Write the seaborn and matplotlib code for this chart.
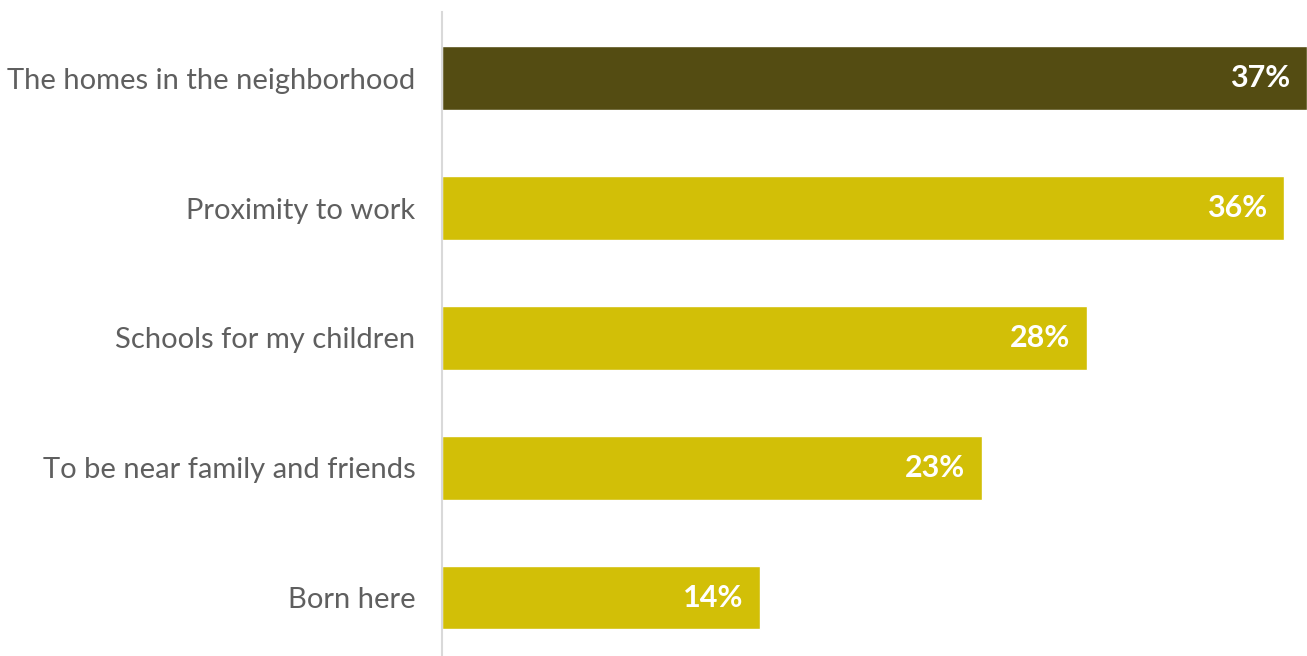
import matplotlib
matplotlib.use("Agg")
import matplotlib.pyplot as plt
import seaborn as sns
import pandas as pd

categories = ["The homes in the neighborhood", "Proximity to work", "Schools for my children",
              "To be near family and friends", "Born here"]
values = [37.0, 36.0, 27.6, 23.1, 13.6]
value_labels = ["37%", "36%", "28%", "23%", "14%"]
colors = ["#544c12", "#d2bf07", "#d2bf07", "#d2bf07", "#d2bf07"]

sns.set_theme(style="white")
plt.rcParams['font.family'] = ['Lato', 'DejaVu Sans']

df = pd.DataFrame({"cat": categories, "val": values})
fig = plt.figure(figsize=(13.07, 6.56), dpi=100)
ax = fig.add_axes([442/1307, 0, 1 - 442/1307, 1 - 12/656])
sns.barplot(data=df, y="cat", x="val", hue="cat", palette=colors, legend=False,
            width=0.49, ax=ax, saturation=1, orient="h")
ax.set_xlim(0, 37)
ax.set_ylim(4.45, -0.51)
for s in ["top", "right", "bottom"]:
    ax.spines[s].set_visible(False)
ax.spines["left"].set_color("#d9d9d9")
ax.spines["left"].set_linewidth(1.5)
ax.set_xticks([])
ax.set_xlabel("")
ax.set_ylabel("")
ax.tick_params(axis="y", length=0, pad=19, labelsize=21, labelcolor="#5f5f5f")
for i, lab in enumerate(value_labels):
    ax.annotate(lab, xy=(values[i], i), xytext=(-12, 0), textcoords="offset points",
                ha="right", va="center", color="white", fontsize=22, fontweight="bold")
fig.savefig("out.png", dpi=100)
